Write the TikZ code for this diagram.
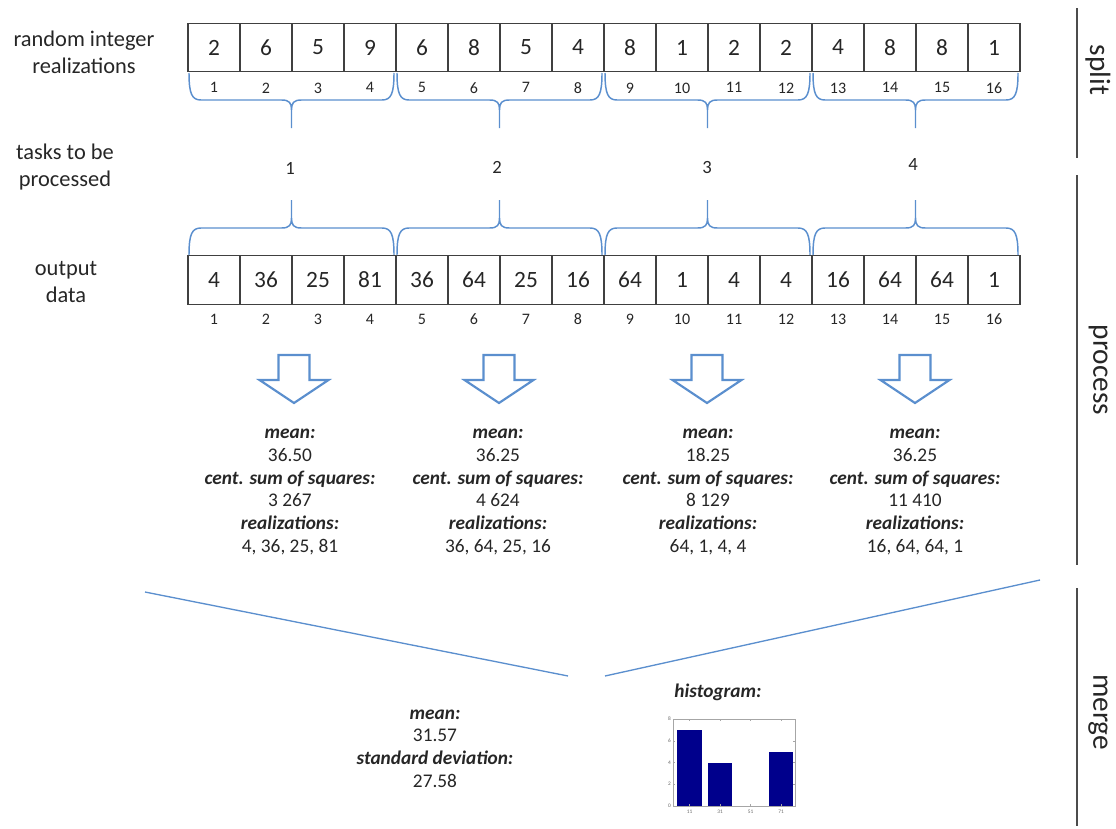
\documentclass[tikz,border=0pt]{standalone}
\usepackage{fontspec}
\setmainfont{Carlito}
\usetikzlibrary{positioning}
\definecolor{braceblue}{RGB}{91,143,206}
\definecolor{textgray}{RGB}{38,38,38}
\definecolor{barblue}{RGB}{0,0,140}
\tikzstyle{Cell}=[rectangle, draw=black!75, line width=1pt, outer sep=0pt, minimum width=39pt, minimum height=36.4pt, text=textgray, font=\fontsize{17.5}{20}\selectfont]
\tikzstyle{Index}=[inner sep=0pt, text=textgray, font=\fontsize{12}{14}\selectfont]
\tikzstyle{RowLabel}=[align=center, text=textgray, font=\fontsize{16.8}{20.25}\selectfont]
\tikzstyle{TaskNum}=[text=textgray, font=\fontsize{14}{17}\selectfont]
\tikzstyle{Stats}=[align=center, text=textgray, font=\fontsize{14.5}{17}\selectfont]
\tikzstyle{GroupBrace}=[draw=braceblue, line width=1.1pt]
\tikzstyle{DownArrow}=[draw=braceblue, line width=1.6pt, line join=miter]
\tikzstyle{MergeLine}=[draw=braceblue, line width=1pt]
\tikzstyle{StageLine}=[draw=black!70, line width=1.5pt]
\tikzstyle{StageLabel}=[rotate=-90, text=textgray, font=\fontsize{22}{26}\selectfont]
\tikzstyle{HistTick}=[inner sep=0pt, text=black!60, font=\fontsize{4}{5}\selectfont]
\newcommand{\stat}[1]{\textbf{\textit{#1}}}

\begin{document}
\begin{tikzpicture}[x=0.75pt, y=-0.75pt]
	\useasboundingbox (0,0) rectangle (1116,828);

	%Etiquetas
	\node[RowLabel]	(lab_in)		at (84,52)	{random integer\\realizations};
	\node[RowLabel]	(lab_tasks)	at (65,167)	{tasks to be\\processed};
	\node[RowLabel]	(lab_out)		at (66,282)	{output\\data};

	%Celdas
	\foreach \v [count=\i] in {2,6,5,9,6,8,5,4,8,1,2,2,4,8,8,1}{
		\node[Cell]		(in\i)		at ({162+52*\i},47.5)	{\v};
		\node[Index]	(in_idx\i)	[below=8pt of in\i]		{\i};
	}
	\foreach \v [count=\i] in {4,36,25,81,36,64,25,16,64,1,4,4,16,64,64,1}{
		\node[Cell]		(out\i)		at ({162+52*\i},280)	{\v};
		\node[Index]	(out_idx\i)	[below=7pt of out\i]	{\i};
	}

	%Llaves y tareas
	\foreach \g in {0,...,3}{
		\pgfmathsetmacro\xl{189+208*\g}
		\pgfmathsetmacro\xr{\xl+205}
		\pgfmathsetmacro\xm{\xl+102.5}
		\draw[GroupBrace] (\xl,73) .. controls (\xl,94) and (\xl+3,100) .. (\xl+12,100) -- (\xm-10,100)
			.. controls (\xm-2,100) and (\xm,103) .. (\xm,110) -- (\xm,128) -- (\xm,110)
			.. controls (\xm,103) and (\xm+2,100) .. (\xm+10,100) -- (\xr-12,100)
			.. controls (\xr-3,100) and (\xr,94) .. (\xr,73);
		\draw[GroupBrace] (\xl,255) .. controls (\xl,234) and (\xl+3,228) .. (\xl+12,228) -- (\xm-10,228)
			.. controls (\xm-2,228) and (\xm,225) .. (\xm,218) -- (\xm,200) -- (\xm,218)
			.. controls (\xm,225) and (\xm+2,228) .. (\xm+10,228) -- (\xr-12,228)
			.. controls (\xr-3,228) and (\xr,234) .. (\xr,255);
	}
	\node[TaskNum]	(task1)	at (290,168)	{1};
	\node[TaskNum]	(task2)	at (497,167)	{2};
	\node[TaskNum]	(task3)	at (707,168)	{3};
	\node[TaskNum]	(task4)	at (913,165)	{4};

	%Flechas
	\foreach \c in {294,499,707,915}{
		\draw[DownArrow] (\c-15.5,355) -- (\c+15.5,355) -- (\c+15.5,380) -- (\c+34.5,380) -- (\c,403)
			-- (\c-34.5,380) -- (\c-15.5,380) -- cycle;
	}

	%Resultados parciales
	\node[Stats]	(res1)	at (290,492)	{\stat{mean:}\\36.50\\\stat{cent. sum of squares:}\\3 267\\\stat{realizations:}\\4, 36, 25, 81};
	\node[Stats]	(res2)	at (498,492)	{\stat{mean:}\\36.25\\\stat{cent. sum of squares:}\\4 624\\\stat{realizations:}\\36, 64, 25, 16};
	\node[Stats]	(res3)	at (708,492)	{\stat{mean:}\\18.25\\\stat{cent. sum of squares:}\\8 129\\\stat{realizations:}\\64, 1, 4, 4};
	\node[Stats]	(res4)	at (915,492)	{\stat{mean:}\\36.25\\\stat{cent. sum of squares:}\\11 410\\\stat{realizations:}\\16, 64, 64, 1};

	%Union
	\draw[MergeLine] (145,592) -- (568,676);
	\draw[MergeLine] (605,676) -- (1040,580);
	\node[Stats]	(total)	at (435,748.5)	{\stat{mean:}\\31.57\\\stat{standard deviation:}\\27.58};
	\node[Stats]	(hist_title)	at (718,692)	{\stat{histogram:}};

	%Histograma
	\fill[barblue] (677,730) rectangle (702,806);
	\fill[barblue] (708,762.5) rectangle (732,806);
	\fill[barblue] (769,751.5) rectangle (793,806);
	\draw[black!35, line width=0.4pt] (673,719) rectangle (795,806);
	\foreach \y/\t in {806/0,784.25/2,762.5/4,740.75/6,719/8}{
		\draw[black!35, line width=0.3pt] (673,\y) -- (675,\y) (795,\y) -- (793,\y);
		\node[HistTick, anchor=east] at (671,\y) {\t};
	}
	\foreach \x/\t in {689.5/11,720/31,750.5/51,781/71}{
		\draw[black!35, line width=0.3pt] (\x,806) -- (\x,804) (\x,719) -- (\x,721);
		\node[HistTick] at (\x,811.5) {\t};
	}

	%Etapas
	\draw[StageLine] (1077,8) -- (1077,158);
	\draw[StageLine] (1077,175) -- (1077,565);
	\draw[StageLine] (1077,588) -- (1077,826);
	\node[StageLabel]	(st_split)		at (1098,70)	{split};
	\node[StageLabel]	(st_process)	at (1098,370)	{process};
	\node[StageLabel]	(st_merge)		at (1098,712)	{merge};
\end{tikzpicture}
\end{document}
